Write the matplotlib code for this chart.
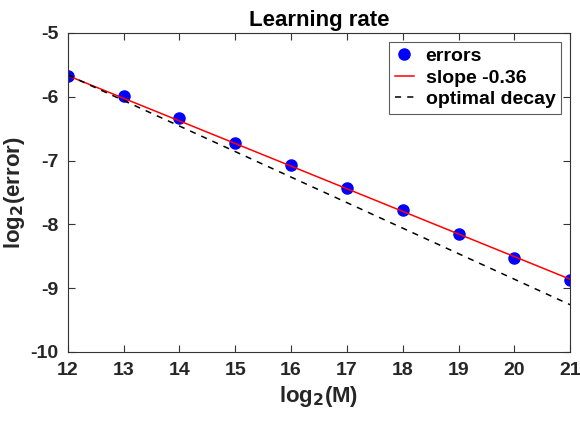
import numpy as np
import matplotlib.pyplot as plt

plt.rcParams['font.family'] = ['Liberation Sans', 'DejaVu Sans']
plt.rcParams['font.weight'] = 'bold'
plt.rcParams['axes.unicode_minus'] = False
plt.rcParams['mathtext.default'] = 'bf'

log2_M = [12, 13, 14, 15, 16, 17, 18, 19, 20, 21]
log2_err = [-5.67, -5.99, -6.34, -6.72, -7.07, -7.43, -7.77, -8.15, -8.53, -8.87]

fit_x = [12, 21]
fit_y = [-5.67, -8.86]
opt_x = [12, 21]
opt_y = [-5.66, -9.26]

fig = plt.figure(figsize=(5.8, 4.22), dpi=100)
ax = fig.add_axes([0.117, 0.166, 0.866, 0.756])

ax.plot(log2_M, log2_err, 'o', color='blue', markersize=8, label='errors')
ax.plot(fit_x, fit_y, '-', color='red', linewidth=1.1, label='slope -0.36')
ax.plot(opt_x, opt_y, '--', color='black', linewidth=1.1, dashes=(4, 4), label='optimal decay')

ax.set_xlim(12, 21)
ax.set_ylim(-10, -5)
ax.set_xticks(range(12, 22))
ax.set_yticks(range(-10, -4))
ax.tick_params(direction='in', length=5, width=0.8, labelsize=14, top=True, right=True,
               color='#333333', labelcolor='#262626', pad=7)
for lab in ax.get_xticklabels() + ax.get_yticklabels():
    lab.set_fontweight('bold')
for s in ax.spines.values():
    s.set_color('#333333')
    s.set_linewidth(0.8)

ax.set_xlabel(r'log$_2$(M)', fontsize=16, fontweight='bold', labelpad=4, color='#262626')
ax.set_ylabel(r'log$_2$(error)', fontsize=16, fontweight='bold', labelpad=2, color='#262626')
ax.set_title('Learning rate', fontsize=16, fontweight='bold', pad=5)

leg = ax.legend(loc='upper right', fontsize=14, frameon=True, fancybox=False,
                edgecolor='#333333', borderaxespad=0.45, handlelength=1.0,
                handletextpad=0.6, labelspacing=0.2, borderpad=0.3)
leg.get_frame().set_linewidth(0.8)
for t in leg.get_texts():
    t.set_fontweight('bold')

fig.savefig('out.png', dpi=100)
